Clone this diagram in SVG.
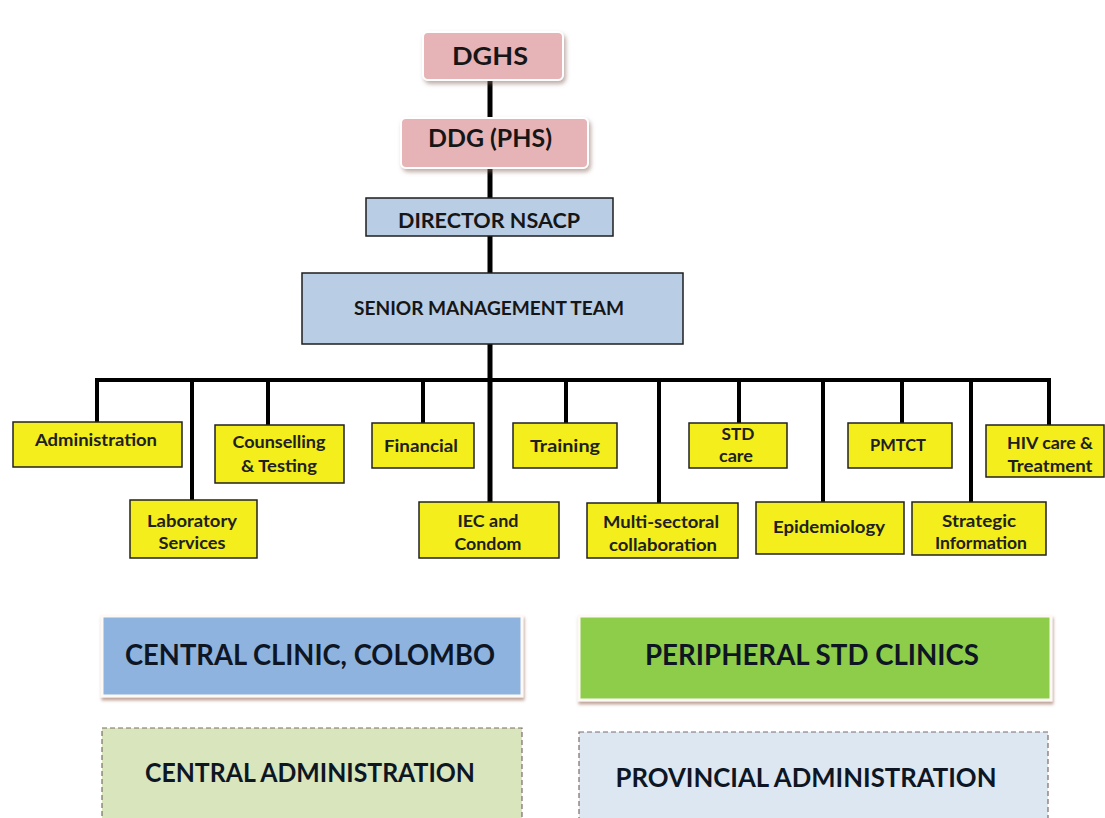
<svg xmlns="http://www.w3.org/2000/svg" width="1105" height="818" viewBox="0 0 1105 818">
<defs>
<filter id="sh" x="-10%" y="-20%" width="125%" height="150%">
<feDropShadow dx="2" dy="3" stdDeviation="2" flood-color="#8a6a60" flood-opacity="0.55"/>
</filter>
<filter id="sh2" x="-10%" y="-20%" width="125%" height="150%">
<feDropShadow dx="1" dy="3" stdDeviation="1.5" flood-color="#9a6a5a" flood-opacity="0.6"/>
</filter>
<style>
text{font-family:"Lato","Liberation Sans",sans-serif;font-weight:bold;fill:#161616;text-anchor:middle}
.pink{fill:#e6b3b6;stroke:#ffffff;stroke-width:2;filter:url(#sh)}
.blue{fill:#b9cde5;stroke:#1e1e1e;stroke-width:1.5}
.yel{fill:#f3ee1c;stroke:#222222;stroke-width:1.5}
.big{stroke:#fdfaf6;stroke-width:3;filter:url(#sh2)}
.dash{stroke:#7d6a6a;stroke-width:1.2;stroke-dasharray:5 3}
.conn{fill:none;stroke:#000;stroke-width:4}
.t1{font-size:24px}
.t2{font-size:21px}
.ty{font-size:17.5px;fill:#202020}
.tb{font-size:28px;fill:#0e1624}
</style>
</defs>
<rect width="1105" height="818" fill="#ffffff"/>

<g id="connectors">
<line class="conn" x1="490" y1="78" x2="490" y2="502" style="stroke-width:5"/>
<path class="conn" d="M97,422 V380 H1049 V425"/>
<line class="conn" x1="192" y1="380" x2="192" y2="500"/>
<line class="conn" x1="268" y1="380" x2="268" y2="425"/>
<line class="conn" x1="423" y1="380" x2="423" y2="423"/>
<line class="conn" x1="566" y1="380" x2="566" y2="423"/>
<line class="conn" x1="659" y1="380" x2="659" y2="503"/>
<line class="conn" x1="739" y1="380" x2="739" y2="423"/>
<line class="conn" x1="823" y1="380" x2="823" y2="502"/>
<line class="conn" x1="902" y1="380" x2="902" y2="423"/>
<line class="conn" x1="971" y1="380" x2="971" y2="502"/>
</g>

<g id="dghs">
<rect class="pink" x="423" y="32" width="140" height="48" rx="5"/>
<text class="t1" x="490" y="65" textLength="76" lengthAdjust="spacingAndGlyphs">DGHS</text>
</g>
<g id="ddg">
<rect class="pink" x="401" y="118" width="187" height="50" rx="5"/>
<text class="t1" x="490" y="147" textLength="124" lengthAdjust="spacingAndGlyphs">DDG (PHS)</text>
</g>
<g id="director">
<rect class="blue" x="366" y="198" width="247" height="38"/>
<text class="t2" x="489" y="228" textLength="182" lengthAdjust="spacingAndGlyphs">DIRECTOR NSACP</text>
</g>
<g id="smt">
<rect class="blue" x="302" y="273" width="381" height="71"/>
<text x="489" y="315" style="font-size:18.5px" textLength="270" lengthAdjust="spacingAndGlyphs">SENIOR MANAGEMENT TEAM</text>
</g>

<g id="administration">
<rect class="yel" x="13" y="422" width="169" height="45"/>
<text class="ty" x="96" y="446" textLength="122" lengthAdjust="spacingAndGlyphs">Administration</text>
</g>
<g id="laboratory">
<rect class="yel" x="130" y="500" width="127" height="58"/>
<text class="ty" x="192" y="527" textLength="90" lengthAdjust="spacingAndGlyphs">Laboratory</text>
<text class="ty" x="192" y="549" textLength="67" lengthAdjust="spacingAndGlyphs">Services</text>
</g>
<g id="counselling">
<rect class="yel" x="215" y="425" width="129" height="58"/>
<text class="ty" x="279" y="448" textLength="93" lengthAdjust="spacingAndGlyphs">Counselling</text>
<text class="ty" x="279" y="472" textLength="76" lengthAdjust="spacingAndGlyphs">&amp; Testing</text>
</g>
<g id="financial">
<rect class="yel" x="372" y="423" width="102" height="45"/>
<text class="ty" x="421" y="452" textLength="74" lengthAdjust="spacingAndGlyphs">Financial</text>
</g>
<g id="iec">
<rect class="yel" x="419" y="502" width="140" height="56"/>
<text class="ty" x="488" y="527" textLength="61" lengthAdjust="spacingAndGlyphs">IEC and</text>
<text class="ty" x="488" y="550" textLength="67" lengthAdjust="spacingAndGlyphs">Condom</text>
</g>
<g id="training">
<rect class="yel" x="513" y="423" width="104" height="45"/>
<text class="ty" x="565" y="452" textLength="70" lengthAdjust="spacingAndGlyphs">Training</text>
</g>
<g id="multisectoral">
<rect class="yel" x="587" y="503" width="151" height="55"/>
<text class="ty" x="661" y="528" textLength="116" lengthAdjust="spacingAndGlyphs">Multi-sectoral</text>
<text class="ty" x="663" y="551" textLength="108" lengthAdjust="spacingAndGlyphs">collaboration</text>
</g>
<g id="stdcare">
<rect class="yel" x="689" y="423" width="98" height="45"/>
<text class="ty" x="738" y="440" textLength="33" lengthAdjust="spacingAndGlyphs">STD</text>
<text class="ty" x="736" y="462" textLength="34" lengthAdjust="spacingAndGlyphs">care</text>
</g>
<g id="epidemiology">
<rect class="yel" x="756" y="502" width="148" height="52"/>
<text class="ty" x="829" y="533" textLength="112" lengthAdjust="spacingAndGlyphs">Epidemiology</text>
</g>
<g id="pmtct">
<rect class="yel" x="848" y="423" width="104" height="45"/>
<text class="ty" x="898" y="451" textLength="56" lengthAdjust="spacingAndGlyphs">PMTCT</text>
</g>
<g id="strategic">
<rect class="yel" x="912" y="502" width="134" height="53"/>
<text class="ty" x="979" y="527" textLength="74" lengthAdjust="spacingAndGlyphs">Strategic</text>
<text class="ty" x="981" y="549" textLength="92" lengthAdjust="spacingAndGlyphs">Information</text>
</g>
<g id="hivcare">
<rect class="yel" x="986" y="425" width="118" height="52"/>
<text class="ty" x="1050" y="449" textLength="86" lengthAdjust="spacingAndGlyphs">HIV care &amp;</text>
<text class="ty" x="1050" y="472" textLength="85" lengthAdjust="spacingAndGlyphs">Treatment</text>
</g>

<g id="central-clinic">
<rect class="big" x="102" y="616" width="420" height="80" fill="#8fb3df"/>
<text class="tb" x="310" y="665" textLength="370" lengthAdjust="spacingAndGlyphs">CENTRAL CLINIC, COLOMBO</text>
</g>
<g id="peripheral">
<rect class="big" x="579" y="616" width="472" height="84" fill="#8ecd4a"/>
<text class="tb" x="812" y="665" textLength="334" lengthAdjust="spacingAndGlyphs">PERIPHERAL STD CLINICS</text>
</g>
<g id="central-admin">
<rect class="dash" x="102" y="728" width="420" height="100" fill="#d8e5bd"/>
<text class="tb" x="310" y="782" style="font-size:27px" textLength="330" lengthAdjust="spacingAndGlyphs">CENTRAL ADMINISTRATION</text>
</g>
<g id="provincial-admin">
<rect class="dash" x="579" y="732" width="469" height="100" fill="#dde7f2"/>
<text class="tb" x="806" y="787" style="font-size:27px" textLength="381" lengthAdjust="spacingAndGlyphs">PROVINCIAL ADMINISTRATION</text>
</g>
</svg>
